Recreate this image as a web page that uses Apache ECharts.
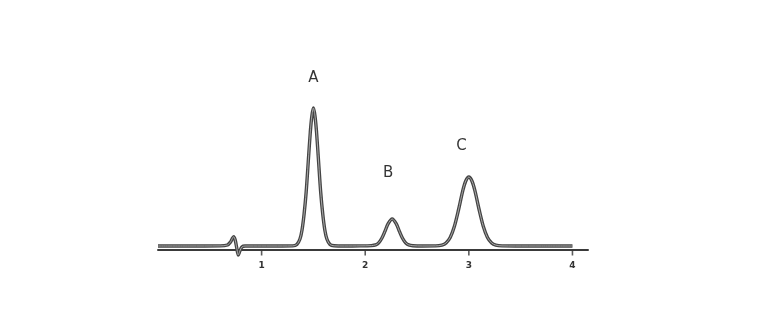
<!DOCTYPE html>
<html>
<head>
<meta charset="utf-8">
<script src="https://cdn.jsdelivr.net/npm/echarts@6/dist/echarts.min.js"></script>
<style>
html,body{margin:0;padding:0;background:#fff;}
#chart{width:762px;height:330px;}
</style>
</head>
<body>
<div id="chart"></div>
<script>
// Retention time (min)
var times = [
  0, 0.3, 0.6, 0.67, 0.7, 0.715, 0.73, 0.745, 0.76, 0.775, 0.79, 0.81, 0.84, 1.0, 1.2, 1.3,
  1.34, 1.37, 1.39, 1.41, 1.43, 1.45, 1.47, 1.485, 1.5, 1.515, 1.53, 1.55, 1.57, 1.59, 1.61, 1.63, 1.66, 1.7,
  1.8, 1.95, 2.06, 2.1, 2.13, 2.16, 2.19, 2.22, 2.26, 2.30, 2.33, 2.36, 2.39, 2.42, 2.46,
  2.55, 2.68, 2.74, 2.78, 2.82, 2.86, 2.90, 2.94, 2.97, 3.0, 3.03, 3.06, 3.10, 3.14, 3.18, 3.22, 3.26, 3.32,
  3.45, 3.7, 4.0
];
// Detector signal (arbitrary units)
var signal = [
  4, 4, 4.1, 5, 8, 11, 13.3, 10, 2, -5, -1, 3, 4, 4, 4, 4.1,
  5.5, 11, 20, 36, 58, 88, 118, 134, 142, 134, 118, 88, 58, 36, 20, 11, 5.5, 4.2,
  4, 4.1, 4.4, 5.1, 7.2, 11.7, 18.6, 26.1, 31, 26.1, 18.6, 11.7, 7.2, 5.1, 4.3,
  4, 4.1, 4.9, 7.0, 12.5, 23.5, 40, 58.7, 69, 73, 69, 58.7, 40, 23.5, 12.5, 7.0, 4.9, 4.1,
  4, 4, 4
];
// Peak labels
var peakNames = ['A', 'B', 'C'];
var peakX = [1.5, 2.22, 2.93];
var peakY = [172, 77, 104];
var tickValues = [1, 2, 3, 4];

var lineData = times.map(function (t, i) { return [t, signal[i]]; });
var labelData = peakNames.map(function (n, i) { return { name: n, value: [peakX[i], peakY[i]] }; });
var tickData = tickValues.map(function (t) { return [t, -3]; });

var chart = echarts.init(document.getElementById('chart'));
chart.setOption({
  animation: false,
  grid: { left: 158, right: 174, top: 60, bottom: 70 },
  xAxis: {
    type: 'value', min: 0, max: 4.15, interval: 1,
    axisLine: { onZero: true, lineStyle: { color: '#3a3a3a', width: 2 } },
    axisTick: { show: false },
    splitLine: { show: false },
    axisLabel: {
      margin: 1, fontSize: 9, fontWeight: 'bold', color: '#333', fontFamily: 'DejaVu Sans',
      customValues: tickValues
    }
  },
  yAxis: {
    type: 'value', min: -10, max: 190, show: false
  },
  series: [
    {
      type: 'line', data: lineData, smooth: 0.3, symbol: 'none',
      lineStyle: { color: '#444', width: 3.4 }, z: 2
    },
    {
      type: 'line', data: lineData, smooth: 0.3, symbol: 'none',
      lineStyle: { color: '#a8a8a8', width: 1 }, z: 3
    },
    {
      type: 'scatter', data: tickData, symbol: 'rect', symbolSize: [1.6, 5],
      itemStyle: { color: '#333' }, silent: true, z: 1
    },
    {
      type: 'scatter', data: labelData, symbolSize: 0,
      label: {
        show: true, position: 'inside', formatter: '{b}',
        fontSize: 15, color: '#000', fontFamily: '"Comic Sans MS", "DejaVu Sans", sans-serif'
      }
    }
  ]
});
</script>
</body>
</html>
